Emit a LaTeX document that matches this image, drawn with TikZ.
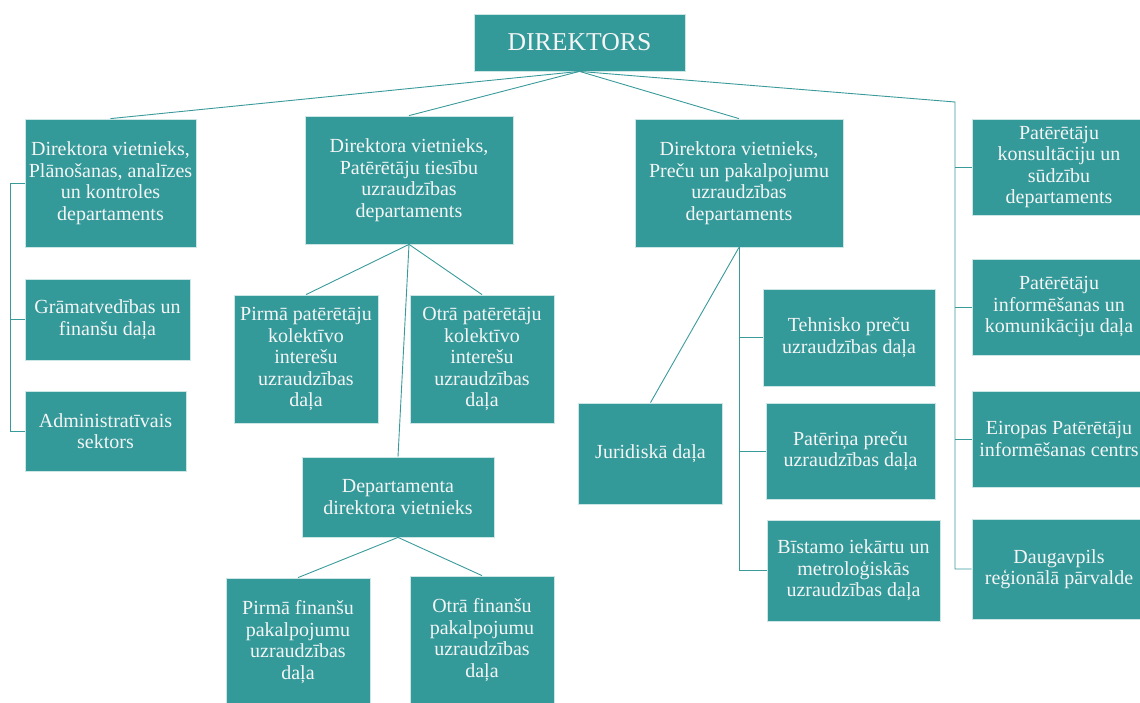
\documentclass[tikz,border=0pt]{standalone}
\usepackage{fontspec}
\setmainfont{Liberation Serif}
\definecolor{ptac}{RGB}{51,153,153}
\definecolor{ptacline}{RGB}{58,154,154}
\begin{document}
\begin{tikzpicture}[x=1pt,y=-1pt,
  unit/.style={draw=white!75!ptac,line width=0.8pt,fill=ptac,text=white!96!black,
    align=center,inner sep=1pt,font=\fontsize{20}{21.5}\selectfont},
  link/.style={draw=ptacline,line width=0.9pt}]
  \clip (0,0) rectangle (1140,702);
  % top
  \node[unit,minimum width=211,minimum height=57,font=\fontsize{25.7}{30}\selectfont] (dir) at (579.5,42.5) {DIREKTORS};
  % plānošanas departaments
  \node[unit,minimum width=171,minimum height=128] (plan) at (110.5,183) {Direktora vietnieks,\\Plānošanas, analīzes\\un kontroles\\departaments};
  \node[unit,minimum width=165,minimum height=81] (gram) at (107.5,319.5) {Grāmatvedības un\\finanšu daļa};
  \node[unit,minimum width=161,minimum height=80] (admin) at (105.5,431) {Administratīvais\\sektors};
  % tiesību departaments
  \node[unit,minimum width=208,minimum height=128] (ties) at (409,180) {Direktora vietnieks,\\Patērētāju tiesību\\uzraudzības\\departaments};
  \node[unit,minimum width=144,minimum height=128] (kol1) at (306,359) {Pirmā patērētāju\\kolektīvo\\interešu\\uzraudzības\\daļa};
  \node[unit,minimum width=144,minimum height=128] (kol2) at (482,359) {Otrā patērētāju\\kolektīvo\\interešu\\uzraudzības\\daļa};
  \node[unit,minimum width=192,minimum height=80] (depv) at (398,497) {Departamenta\\direktora vietnieks};
  \node[unit,minimum width=144,minimum height=128] (fin1) at (298,642) {Pirmā finanšu\\pakalpojumu\\uzraudzības\\daļa};
  \node[unit,minimum width=144,minimum height=128] (fin2) at (482,640) {Otrā finanšu\\pakalpojumu\\uzraudzības\\daļa};
  % preču departaments
  \node[unit,minimum width=208,minimum height=128] (prec) at (739,183) {Direktora vietnieks,\\Preču un pakalpojumu\\uzraudzības\\departaments};
  \node[unit,minimum width=144,minimum height=101] (jur) at (650.5,453.5) {Juridiskā daļa};
  \node[unit,minimum width=172,minimum height=97] (teh) at (849,337.5) {Tehnisko preču\\uzraudzības daļa};
  \node[unit,minimum width=169,minimum height=96] (pat) at (850.5,451) {Patēriņa preču\\uzraudzības daļa};
  \node[unit,minimum width=173,minimum height=101] (bist) at (853.5,570.5) {Bīstamo iekārtu un\\metroloģiskās\\uzraudzības daļa};
  % labā kolonna
  \node[unit,minimum width=174,minimum height=96] (kons) at (1059,167) {Patērētāju\\konsultāciju un\\sūdzību\\departaments};
  \node[unit,minimum width=174,minimum height=96] (info) at (1059,307) {Patērētāju\\informēšanas un\\komunikāciju daļa};
  \node[unit,minimum width=174,minimum height=96] (eiro) at (1059,439) {Eiropas Patērētāju\\informēšanas centrs};
  \node[unit,minimum width=174,minimum height=100] (daug) at (1059,569) {Daugavpils\\reģionālā pārvalde};
  \coordinate (rtop) at (955,102);
  \coordinate (lsp) at (10,0);

  \draw[link] (dir.south) -- (plan.north);
  \draw[link] (dir.south) -- (ties.north);
  \draw[link] (dir.south) -- (prec.north);
  \draw[link] (dir.south) -- (rtop) |- (daug.west);
  \foreach \n in {kons,info,eiro}
    \draw[link] (rtop |- \n.west) -- (\n.west);
  \draw[link] (plan.west) -- (lsp |- plan.west) |- (admin.west);
  \draw[link] (lsp |- gram.west) -- (gram.west);
  \foreach \n in {kol1,kol2,depv}
    \draw[link] (ties.south) -- (\n.north);
  \draw[link] (depv.south) -- (fin1.north);
  \draw[link] (depv.south) -- (fin2.north);
  \draw[link] (prec.south) -- (jur.north);
  \draw[link] (prec.south) |- (bist.west);
  \foreach \n in {teh,pat}
    \draw[link] (prec.south |- \n.west) -- (\n.west);
\end{tikzpicture}
\end{document}
